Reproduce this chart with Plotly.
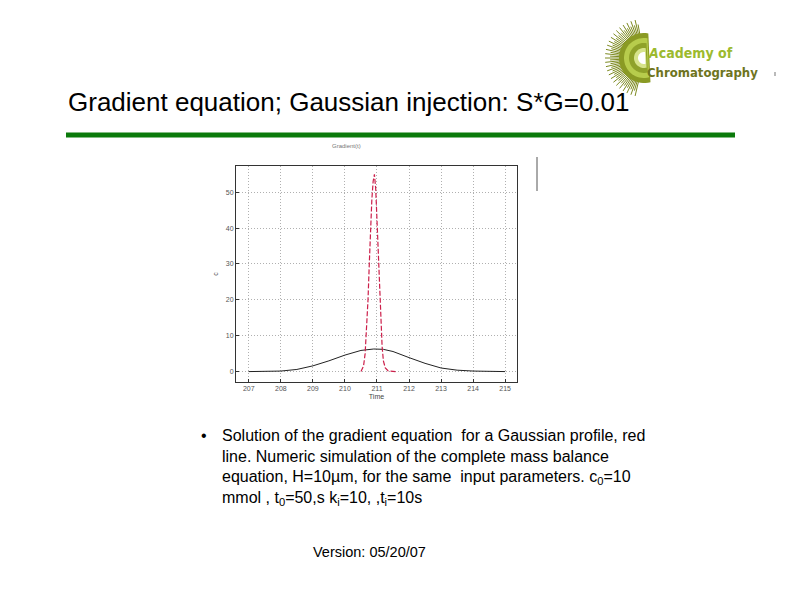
import plotly.graph_objects as go
import math

# ---- data ----
time_black = [207.0, 207.5, 208.0, 208.5, 209.0, 209.5, 210.0, 210.5, 210.9, 211.2,
              211.5, 212.0, 212.5, 213.0, 213.5, 214.0, 214.5, 215.0]
conc_black = [0.0, 0.05, 0.15, 0.6, 1.6, 3.0, 4.6, 5.9, 6.3, 6.2,
              5.6, 3.9, 2.3, 1.0, 0.4, 0.15, 0.05, 0.0]
time_red = [210.5, 210.58, 210.63, 210.68, 210.72, 210.76, 210.8, 210.84, 210.88, 210.92,
            210.96, 211.0, 211.04, 211.08, 211.12, 211.16, 211.2, 211.26, 211.35, 211.5, 211.6]
conc_red = [0.0, 1.5, 5.0, 12.0, 20.0, 30.0, 40.0, 48.0, 53.0, 55.0,
            51.0, 42.0, 32.0, 22.0, 13.0, 7.0, 3.0, 1.0, 0.2, 0.0, 0.0]
x_ticks = [207, 208, 209, 210, 211, 212, 213, 214, 215]
y_ticks = [0, 10, 20, 30, 40, 50]

OFF = 8  # page body margin
W, H = 794 - 2 * OFF, 595 - 2 * OFF
L, R, T, B = 236 - OFF, 517 - OFF, 166 - OFF, 382 - OFF


def px(x):
    return (x - OFF - L) / (R - L)


def py(y):
    return (B - (y - OFF)) / (B - T)


fig = go.Figure()
fig.add_trace(go.Scatter(x=time_black, y=conc_black, mode="lines",
                         line=dict(color="#222222", width=1), showlegend=False))
fig.add_trace(go.Scatter(x=time_red, y=conc_red, mode="lines",
                         line=dict(color="#cc1f4a", width=1.2, dash="5px,2px"), showlegend=False))

axis_common = dict(showline=True, linecolor="#333333", linewidth=1, mirror=True,
                   showgrid=True, gridcolor="#b0b0b0", griddash="1px,2px", gridwidth=1,
                   zeroline=False, ticks="inside", ticklen=3, tickcolor="#333333",
                   tickfont=dict(family="Liberation Sans", size=7, color="#555555"))

fig.update_layout(
    width=W, height=H,
    margin=dict(l=L, r=W - R, t=T, b=H - B),
    paper_bgcolor="white", plot_bgcolor="white",
    xaxis=dict(range=[206.6, 215.37], tickvals=x_ticks, **axis_common,
               title=dict(text="Time", font=dict(family="Liberation Sans", size=7, color="#444444"), standoff=2)),
    yaxis=dict(range=[-2.9, 57.3], tickvals=y_ticks, **axis_common,
               title=dict(text="c", font=dict(family="Liberation Sans", size=7, color="#444444"), standoff=6)),
    showlegend=False,
)

ann = []
# slide title
ann.append(dict(text="Gradient equation; Gaussian injection: S*G=0.01", x=px(66), y=py(102),
                xref="paper", yref="paper", xanchor="left", yanchor="middle", showarrow=False,
                font=dict(family="Liberation Sans", size=26, color="black")))
# tiny chart title
ann.append(dict(text="Gradient(t)", x=px(346), y=py(146), xref="paper", yref="paper",
                xanchor="center", yanchor="middle", showarrow=False,
                font=dict(family="Liberation Sans", size=6, color="#777777")))
# bullet text
ann.append(dict(text="•", x=px(199), y=py(435), xref="paper", yref="paper",
                xanchor="left", yanchor="middle", showarrow=False,
                font=dict(family="Liberation Sans", size=16, color="black")))
lines = [
    "Solution of the gradient equation  for a Gaussian profile, red",
    "line. Numeric simulation of the complete mass balance",
    "equation, H=10µm, for the same  input parameters. c<sub>0</sub>=10",
    "mmol , t<sub>0</sub>=50,s k<sub>i</sub>=10, ,t<sub>i</sub>=10s",
]
for i, s in enumerate(lines):
    ann.append(dict(text=s, x=px(220), y=py(435 + 21 * i), xref="paper", yref="paper",
                    xanchor="left", yanchor="middle", showarrow=False,
                    font=dict(family="Liberation Sans", size=16, color="black")))
ann.append(dict(text="Version: 05/20/07", x=px(311), y=py(552), xref="paper", yref="paper",
                xanchor="left", yanchor="middle", showarrow=False,
                font=dict(family="Liberation Sans", size=14.5, color="black")))
# logo text
ann.append(dict(text="<b><i>A</i>cademy of</b>", x=px(646), y=py(53), xref="paper", yref="paper",
                xanchor="left", yanchor="middle", showarrow=False,
                font=dict(family="DejaVu Sans Condensed", size=14, color="#9cba2e")))
ann.append(dict(text="<b>Chromatography</b>", x=px(645), y=py(72), xref="paper", yref="paper",
                xanchor="left", yanchor="middle", showarrow=False,
                font=dict(family="DejaVu Sans Condensed", size=13, color="#6e7420")))
fig.update_layout(annotations=ann)

shapes = []
# green rule
shapes.append(dict(type="rect", xref="paper", yref="paper", x0=px(66), x1=px(735),
                   y0=py(132.5), y1=py(137.5), fillcolor="#0b7a0b", line=dict(width=0)))
# legend remnant line
shapes.append(dict(type="line", xref="paper", yref="paper", x0=px(537), x1=px(537),
                   y0=py(157), y1=py(191), line=dict(color="#555555", width=1)))
# logo sunburst
cx, cy = 644, 58
for k in range(50):
    a = math.radians(100 + k * 3.2)
    r1, r2 = 24, 34 + (k % 2) * 5
    shapes.append(dict(type="line", xref="paper", yref="paper",
                       x0=px(cx + r1 * math.cos(a)), y0=py(cy - r1 * math.sin(a)),
                       x1=px(cx + r2 * math.cos(a)), y1=py(cy - r2 * math.sin(a)),
                       line=dict(color="#7d8a20", width=1)))


def half_disc(r, color, a0=80, a1=285):
    pts = []
    for k in range(0, 37):
        a = math.radians(a0 + k * (a1 - a0) / 36)
        pts.append((px(cx + r * math.cos(a)), py(cy - r * math.sin(a))))
    path = "M " + " L ".join(f"{x},{y}" for x, y in pts) + " Z"
    return dict(type="path", xref="paper", yref="paper", path=path,
                fillcolor=color, line=dict(width=0))


shapes.append(half_disc(25, "#8a9a24"))
shapes.append(half_disc(20, "#b7cc4c"))
shapes.append(half_disc(15, "#8fa22a"))
shapes.append(half_disc(10, "#d6e38a"))
shapes.append(half_disc(6, "#ffffff"))
# small dot
shapes.append(dict(type="rect", xref="paper", yref="paper", x0=px(774.5), x1=px(775.5),
                   y0=py(72), y1=py(76), fillcolor="#777777", line=dict(width=0)))
fig.update_layout(shapes=shapes)

fig.write_html("out.html")
